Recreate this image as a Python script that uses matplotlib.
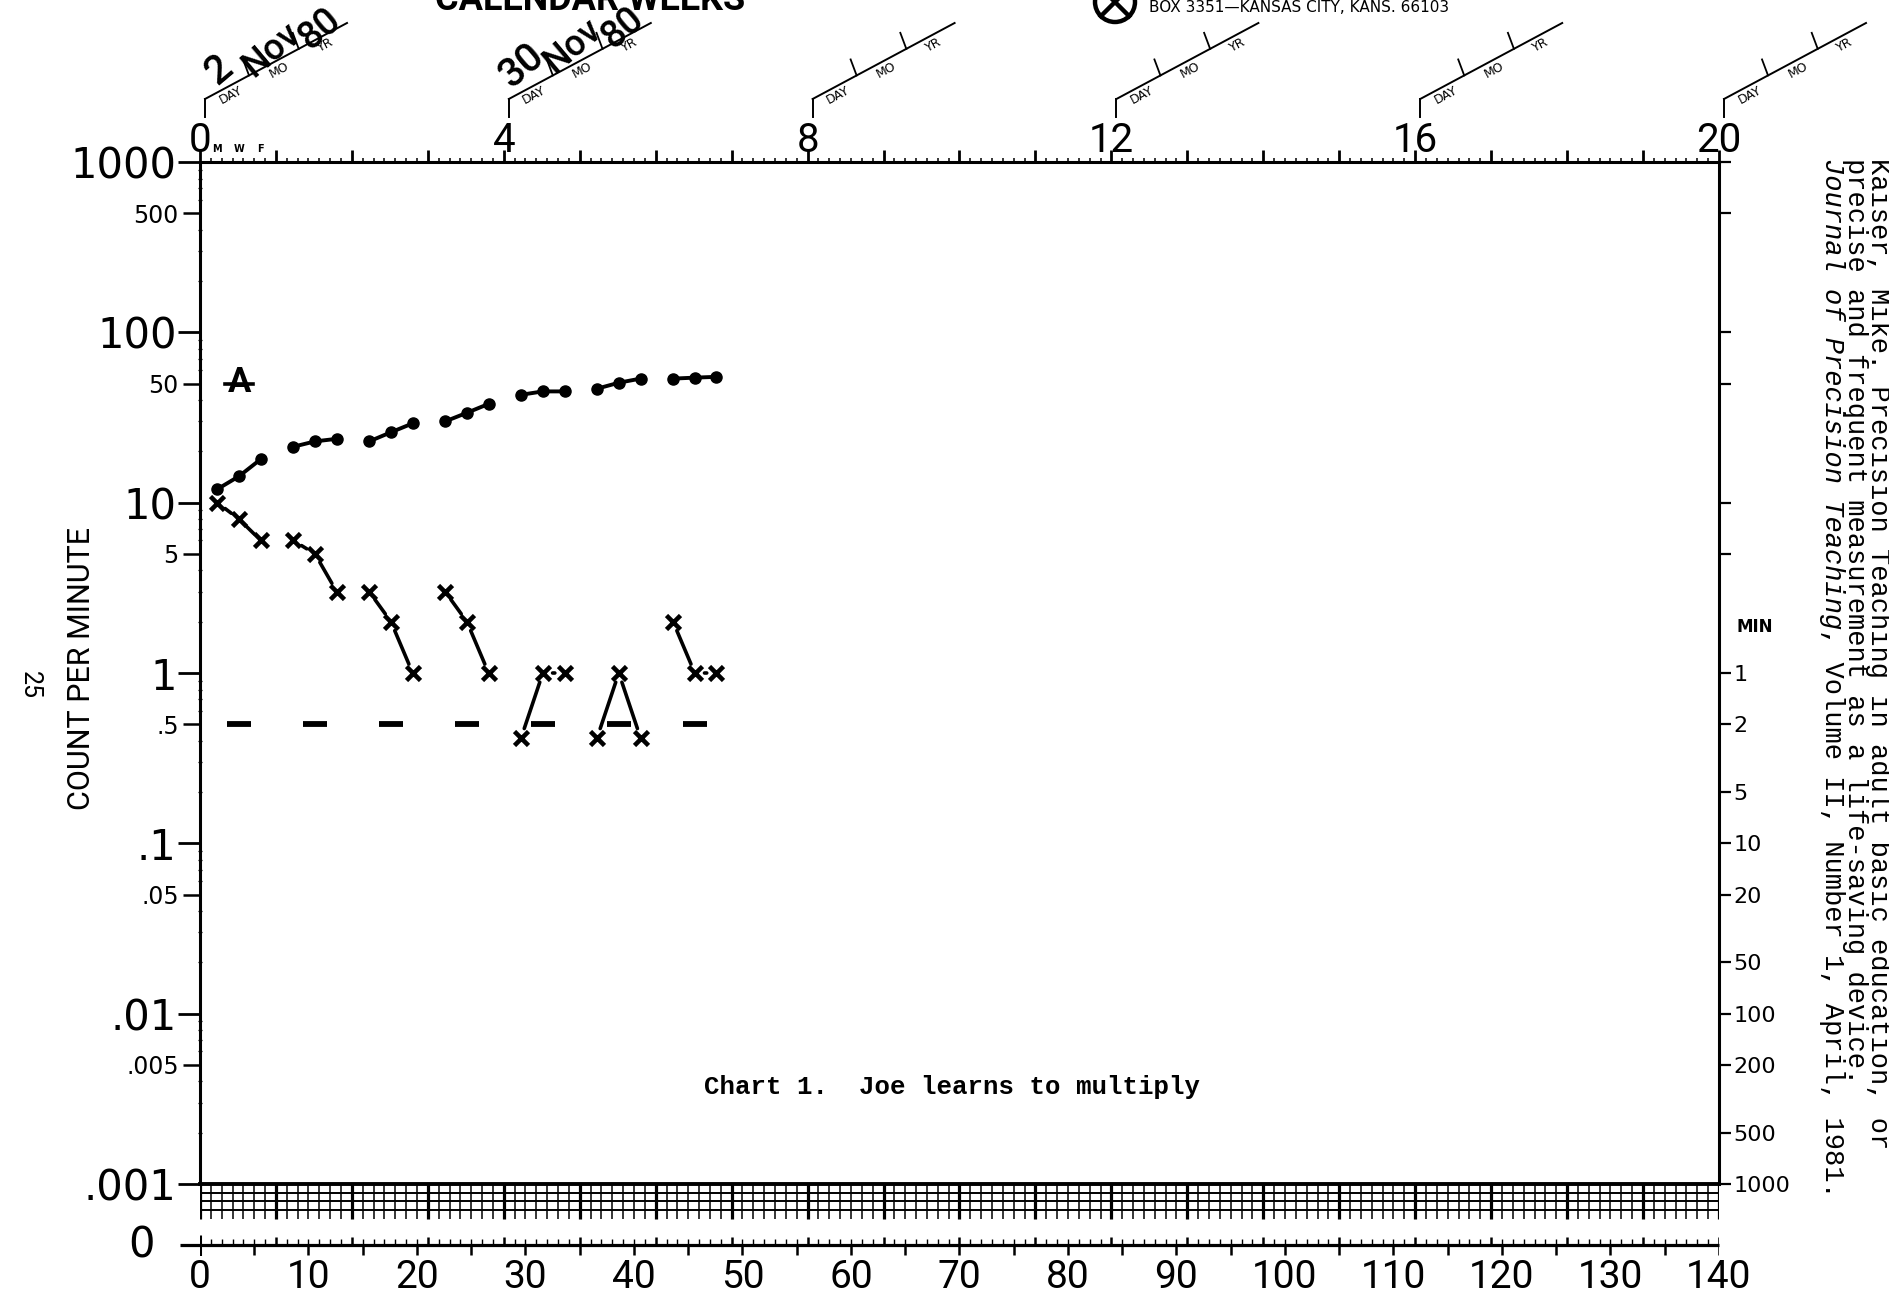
import numpy as np
import matplotlib
matplotlib.use('Agg')
import matplotlib.pyplot as plt
from matplotlib.lines import Line2D
from matplotlib.patches import Circle

# ---------------- data ----------------
days = [1, 3, 5, 8, 10, 12, 15, 17, 19, 22, 24, 26, 29, 31, 33, 36, 38, 40, 43, 45, 47]
corrects = [12, 14.3, 18, 21.3, 22.9, 23.7, 22.9, 25.9, 29.2, 30, 33.7, 38,
            43, 45, 45, 46.7, 50.6, 53.5, 53.5, 54.2, 54.8]
errors = [10, 8, 6, 6, 5, 3, 3, 2, 1, 3, 2, 1, 0, 1, 1, 0, 1, 0, 2, 1, 1]
floor_days = [3, 10, 17, 24, 31, 38, 45]
record_floor = 0.5          # 2-minute timing
aim_day = 3
aim_value = 50
week_labels = ['0', '4', '8', '12', '16', '20']
bottom_labels = [str(v) for v in range(0, 141, 10)]
left_major = [1000, 100, 10, 1, .1, .01, .001]
left_major_lab = ['1000', '100', '10', '1', '.1', '.01', '.001']
left_minor = [500, 50, 5, .5, .05, .005]
left_minor_lab = ['500', '50', '5', '.5', '.05', '.005']
min_vals = [1, .5, .2, .1, .05, .02, .01, .005, .002, .001]
min_labels = ['1', '2', '5', '10', '20', '50', '100', '200', '500', '1000']
dates = [('2', 'Nov', '80'), ('30', 'Nov', '80')]
caption = 'Chart 1.  Joe learns to multiply'
cite1 = 'Kaiser, Mike. Precision Teaching in adult basic education, or'
cite2 = 'precise and frequent measurement as a life-saving device.'
cite3a = 'Journal of Precision Teaching'
cite3b = ', Volume II, Number 1, April, 1981.'

# ---------------- styles ----------------
NARROW = ['Roboto', 'DejaVu Sans']
ROUND = ['DejaVu Sans']
MONO = ['Liberation Mono', 'DejaVu Sans Mono']
DAY_OFFSET = 0.6   # hand-plotted marks sit a little right of the day lines
K = 'black'

W, H = 1890, 1304
fig = plt.figure(figsize=(W / 100, H / 100), dpi=100)
fig.patch.set_facecolor('white')


def P(x, y):
    return (x / W, 1 - y / H)


def pt(px):
    return px / 1.389


L, R, T, B = 200, 1719, 162, 1184
ax = fig.add_axes([L / W, 1 - B / H, (R - L) / W, (B - T) / H])
ax.set_yscale('log')
ax.set_ylim(0.001, 1000)
ax.set_xlim(0, 140)
ax.set_facecolor('none')
for s in ['top', 'left', 'right']:
    ax.spines[s].set_linewidth(2.2)
ax.spines['bottom'].set_linewidth(2.8)

# left axis ticks
ax.set_yticks(left_major)
ax.set_yticklabels(left_major_lab, fontsize=30, family=ROUND)
ax.set_yticks(left_minor, minor=True)
ax.set_yticklabels(left_minor_lab, minor=True, fontsize=17, family=ROUND)
ax.tick_params(axis='y', which='major', direction='out', length=pt(22), width=2,
               pad=1, left=True, right=False)
ax.tick_params(axis='y', which='minor', direction='out', length=pt(17), width=1.8,
               pad=3, left=True, right=False)

# tiny intermediate ticks on the left spine
tiny = [k * 10.0 ** e for e in range(-3, 3) for k in (2, 3, 4, 6, 7, 8, 9)]
sl = ax.secondary_yaxis('left')
sl.set_yticks(tiny)
sl.set_yticklabels([''] * len(tiny))
sl.tick_params(direction='inout', length=pt(4), width=0.9)
sl.spines['left'].set_visible(False)
sl.yaxis.set_minor_locator(matplotlib.ticker.NullLocator())

# right axis (minutes)
right_ticks = [1000, 500, 100, 50, 10, 5] + min_vals
right_labs = [''] * 6 + min_labels
sr = ax.secondary_yaxis('right')
sr.set_yticks(right_ticks)
sr.set_yticklabels(right_labs, fontsize=16, family=ROUND)
sr.yaxis.set_minor_locator(matplotlib.ticker.NullLocator())
sr.tick_params(direction='out', length=pt(12), width=1.6, pad=2)
sr.spines['right'].set_visible(False)
fig.text(*P(1737, 627), 'MIN', fontsize=12, weight='bold', family=ROUND,
         ha='left', va='center')

# top axis: weeks
ax.xaxis.set_ticks_position('top')
ax.set_xticks(range(0, 141, 7))
ax.set_xticklabels([week_labels[i // 4] if i % 4 == 0 else '' for i in range(21)],
                   fontsize=29, family=NARROW)
ax.set_xticks(range(0, 141), minor=True)
ax.tick_params(axis='x', which='major', direction='out', length=pt(12), width=2,
               pad=-7)
ax.tick_params(axis='x', which='minor', direction='out', length=pt(4), width=1.1)
for d, lab in zip([1, 3, 5], ['M', 'W', 'F']):
    ax.text(d + DAY_OFFSET, 1.008, lab, transform=ax.get_xaxis_transform(),
            fontsize=7, weight='bold', ha='center', va='bottom', family=ROUND)

# ---------------- data marks ----------------
x_all = np.array(days) + DAY_OFFSET
weeks = np.array(days) // 7
corr = np.array(corrects, dtype=float)
err = np.array(errors, dtype=float)
err_plot = np.where(err == 0, record_floor / 1.2, err)

for w in np.unique(weeks):
    m = weeks == w
    ax.plot(x_all[m], corr[m], '-', color=K, lw=2.8, marker='o', ms=8,
            solid_capstyle='round', zorder=4)
    xs, ys = x_all[m], err_plot[m]
    ax.plot(xs, ys, ls='none', marker='x', ms=10, mew=3.3, color=K, zorder=4)
    for i in range(len(xs) - 1):
        ax.annotate('', xy=(xs[i + 1], ys[i + 1]), xytext=(xs[i], ys[i]),
                    arrowprops=dict(arrowstyle='-', color=K, lw=2.6,
                                    shrinkA=7, shrinkB=7))

ax.plot(np.array(floor_days) + DAY_OFFSET, [record_floor] * len(floor_days),
        ls='none', marker='_', ms=17, mew=4.2, color=K, zorder=3)

ax.text(aim_day + DAY_OFFSET, aim_value * 1.02, 'A', fontsize=25, ha='center',
        va='center', family=NARROW, color=K, weight='bold')
ax.plot([aim_day + DAY_OFFSET - 1.3, aim_day + DAY_OFFSET + 1.3],
        [aim_value, aim_value], color=K, lw=2.6)

# ---------------- lower strip and zero line ----------------
B2 = 1256
ax2 = fig.add_axes([L / W, 1 - B2 / H, (R - L) / W, (B2 - B) / H])
ax2.set_xlim(0, 140)
ax2.set_ylim(0, 1)
ax2.set_facecolor('none')
for s in ax2.spines.values():
    s.set_visible(False)
ax2.set_yticks([])


def yy(p):
    return (B2 - p) / (B2 - B)


for p in (1193, 1201, 1210):
    ax2.hlines(yy(p), 0, 140, color=K, lw=1.4)
for d in range(0, 141):
    heavy = d % 7 == 0
    ax2.vlines(d, yy(1219), 1, color=K, lw=2.3 if heavy else 1.1)
    ax2.vlines(d, yy(1245), yy(1237 if heavy else 1239), color=K,
               lw=1.8 if heavy else 1.0)
    if d % 5 == 0:
        ax2.vlines(d, yy(1255), yy(1245), color=K, lw=1.8)
ax2.hlines(yy(1245), -1.8, 140, color=K, lw=2.3, clip_on=False)
ax2.vlines(0, yy(1256), yy(1235), color=K, lw=2.2)
ax2.set_xticks(range(0, 141, 10))
ax2.set_xticklabels(bottom_labels, fontsize=28, family=NARROW)
ax2.tick_params(axis='x', length=0, pad=2)
fig.text(*P(142, 1246), '0', fontsize=30, family=ROUND, ha='center', va='center')

# ---------------- labels ----------------
fig.text(*P(82, 669), 'COUNT PER MINUTE', rotation=90, fontsize=22,
         family=NARROW, ha='center', va='center')
fig.text(*P(30, 685), '25', rotation=-90, fontsize=18, family=NARROW,
         ha='center', va='center')
fig.text(*P(704, 1087), caption, fontsize=18.5, family=MONO, ha='left',
         va='center', weight='bold')

fs_c = 19.5
adv = 0.6 * fs_c * 1.389
fig.text(*P(1878, 158), cite1, rotation=-90, fontsize=fs_c, family=MONO,
         ha='center', va='top')
fig.text(*P(1855, 158), cite2, rotation=-90, fontsize=fs_c, family=MONO,
         ha='center', va='top')
fig.text(*P(1832, 158), cite3a, rotation=-90, fontsize=fs_c, family=MONO,
         style='italic', ha='center', va='top')
fig.text(*P(1832, 158 + adv * len(cite3a)), cite3b, rotation=-90, fontsize=fs_c,
         family=MONO, ha='center', va='top')

# header
fig.text(*P(590, 10), 'CALENDAR WEEKS', fontsize=26, weight='bold', family=NARROW,
         ha='center', va='baseline')
fig.text(*P(1149, 7), 'BOX 3351\u2014KANSAS CITY, KANS. 66103', fontsize=11,
         family=ROUND, ha='left', va='center')
fig.add_artist(Circle((1115, H - 2), 20, transform=None, fill=False, lw=3.2,
                      color=K))
for a in (45, 135):
    dx, dy = 20 * np.cos(np.radians(a)), 20 * np.sin(np.radians(a))
    fig.add_artist(Line2D([1115 - dx, 1115 + dx], [H - 2 - dy, H - 2 + dy],
                          transform=None, color=K, lw=3.2))

# date stubs over each labelled week
ang = np.degrees(np.arctan2(76, 142))
nx, ny = np.sin(np.radians(ang)), np.cos(np.radians(ang))     # below line (y down)
for k, w in enumerate(range(0, 141, 28)):
    x0 = L + w * (R - L) / 140 + 5
    y0 = 99
    xe, ye = x0 + 142, y0 - 76
    fig.add_artist(Line2D([x0 / W, x0 / W], [1 - 117 / H, 1 - y0 / H], color=K, lw=1.4))
    fig.add_artist(Line2D([x0 / W, xe / W], [1 - y0 / H, 1 - ye / H], color=K, lw=1.4))
    for f in (0.31, 0.66):
        px, py = x0 + f * 142, y0 - f * 76
        fig.add_artist(Line2D([px / W, (px - 6) / W], [1 - py / H, 1 - (py - 16) / H],
                              color=K, lw=1.3))
    for f, lab in ((0.15, 'DAY'), (0.49, 'MO'), (0.82, 'YR')):
        px, py = x0 + f * 142 + 9 * nx, y0 - f * 76 + 9 * ny
        fig.text(px / W, 1 - py / H, lab, rotation=ang, fontsize=9,
                 family=ROUND, ha='center', va='center', rotation_mode='anchor')

hand_pos = [[(219, 70), (272, 50), (320, 29)], [(522, 66), (573, 46), (623, 28)]]
hand_size = [29, 26, 27]
for (dtxt, mtxt, ytxt), pos in zip(dates, hand_pos):
    for txt, (px, py), fs in zip((dtxt, mtxt, ytxt), pos, hand_size):
        fig.text(px / W, 1 - py / H, txt, rotation=ang + 12, fontsize=fs,
                 family=NARROW, ha='center', va='center', weight='medium')

fig.savefig('out.png', dpi=100, facecolor='white')
